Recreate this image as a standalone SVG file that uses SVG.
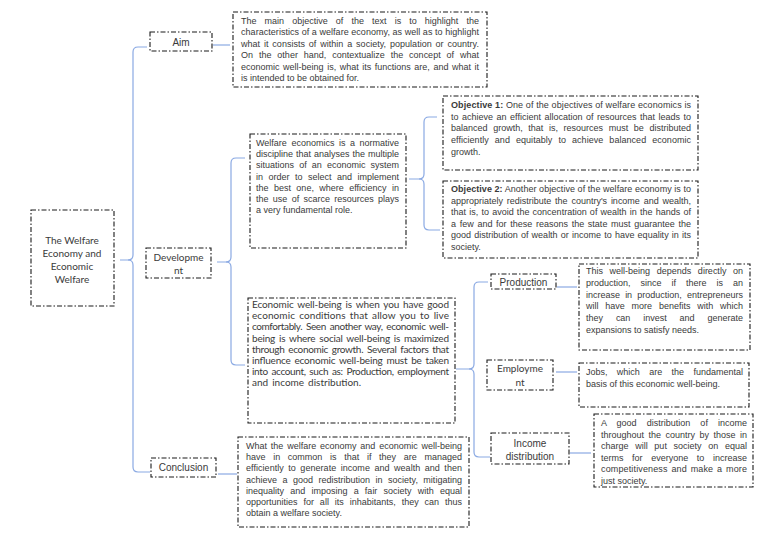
<svg xmlns="http://www.w3.org/2000/svg" width="768" height="543" viewBox="0 0 768 543">
<style>
.box{fill:#fff;stroke:#1a1a1a;stroke-width:1.1;stroke-dasharray:5 2 1.5 2}
.t{font-family:"Liberation Sans",Arial,sans-serif;font-size:9px;fill:#3a3a3a}
.c{font-family:Lato,"Liberation Sans",sans-serif;font-size:10px;fill:#3a3a3a;word-spacing:1.5px}
.lbl{font-family:"Liberation Sans",Arial,sans-serif;font-size:10px;fill:#3a3a3a;text-anchor:middle}
.lc{font-family:Lato,"Liberation Sans",sans-serif;font-size:10px;fill:#3a3a3a;text-anchor:middle}
.ln{fill:none;stroke:#8aa9e3;stroke-width:1.2}
</style>
<rect width="768" height="543" fill="#fff"/>
<g id="connectors">
<path class="ln" d="M120,260 H128 Q133,260 133,255 V52 Q133,47 138,47 H147"/>
<path class="ln" d="M128,260 Q133,260 133,265 V467 Q133,472 138,472 H150"/>
<path class="ln" d="M213,45 H230" stroke-width="1.5"/>
<path class="ln" d="M217,262 H226 Q231,262 231,257 V163 Q231,158 236,158 H245"/>
<path class="ln" d="M226,262 Q231,262 231,267 V360 Q231,365 236,365 H245"/>
<path class="ln" d="M409,179 H419 Q424,179 424,174 V122 Q424,117 429,117 H437"/>
<path class="ln" d="M419,179 Q424,179 424,184 V225 Q424,230 429,230 H440"/>
<path class="ln" d="M456,369 H469 Q474,369 474,364 V287 Q474,282 479,282 H488"/>
<path class="ln" d="M469,369 Q474,369 474,374 V452 Q474,457 479,457 H490"/>
<path class="ln" d="M557,287 H577"/>
<path class="ln" d="M556,372 H577"/>
<path class="ln" d="M570,453 H591"/>
<path class="ln" d="M218,474 H237"/>
</g>
<g id="root">
<rect class="box" x="31" y="210" width="83" height="96"/>
<text class="lc" x="72" y="244">The Welfare</text>
<text class="lc" x="72" y="257">Economy and</text>
<text class="lc" x="72" y="270">Economic</text>
<text class="lc" x="72" y="283">Welfare</text>
</g>
<g id="aim">
<rect class="box" x="150" y="32" width="62" height="19"/>
<text class="lbl" x="181" y="45.5">Aim</text>
</g>
<g id="aim-desc">
<rect class="box" x="233" y="12" width="254" height="75"/>
<text class="t" x="241" y="23.5" word-spacing="5.6" textLength="238" lengthAdjust="spacing">The main objective of the text is to highlight the</text>
<text class="t" x="241" y="35" textLength="238" lengthAdjust="spacing">characteristics of a welfare economy, as well as to highlight</text>
<text class="t" x="241" y="46.5" word-spacing="1.3" textLength="238" lengthAdjust="spacing">what it consists of within a society, population or country.</text>
<text class="t" x="241" y="58" word-spacing="3.4" textLength="238" lengthAdjust="spacing">On the other hand, contextualize the concept of what</text>
<text class="t" x="241" y="69.5" word-spacing="1" textLength="238" lengthAdjust="spacing">economic well-being is, what its functions are, and what it</text>
<text class="t" x="241" y="81">is intended to be obtained for.</text>
</g>
<g id="development">
<rect class="box" x="146" y="248" width="65" height="30"/>
<text class="lc" x="178.5" y="261">Developme</text>
<text class="lc" x="178.5" y="274">nt</text>
</g>
<g id="welfare-desc">
<rect class="box" x="250" y="134" width="156" height="114"/>
<text class="t" x="256" y="146" word-spacing="2" textLength="143" lengthAdjust="spacing">Welfare economics is a normative</text>
<text class="t" x="256" y="157.2" word-spacing="0.5" textLength="143" lengthAdjust="spacing">discipline that analyses the multiple</text>
<text class="t" x="256" y="168.4" word-spacing="2.6" textLength="143" lengthAdjust="spacing">situations of an economic system</text>
<text class="t" x="256" y="179.6" word-spacing="3" textLength="143" lengthAdjust="spacing">in order to select and implement</text>
<text class="t" x="256" y="190.8" word-spacing="2.9" textLength="143" lengthAdjust="spacing">the best one, where efficiency in</text>
<text class="t" x="256" y="202" word-spacing="1.8" textLength="143" lengthAdjust="spacing">the use of scarce resources plays</text>
<text class="t" x="256" y="213.2">a very fundamental role.</text>
</g>
<g id="objective1">
<rect class="box" x="443" y="96" width="255" height="74"/>
<text class="t" x="451" y="108" textLength="240" lengthAdjust="spacing"><tspan font-weight="bold">Objective 1:</tspan> One of the objectives of welfare economics is</text>
<text class="t" x="451" y="119.7" word-spacing="1" textLength="240" lengthAdjust="spacing">to achieve an efficient allocation of resources that leads to</text>
<text class="t" x="451" y="131.4" word-spacing="3.1" textLength="240" lengthAdjust="spacing">balanced growth, that is, resources must be distributed</text>
<text class="t" x="451" y="143.1" word-spacing="3.5" textLength="240" lengthAdjust="spacing">efficiently and equitably to achieve balanced economic</text>
<text class="t" x="451" y="154.8">growth.</text>
</g>
<g id="objective2">
<rect class="box" x="443" y="181" width="255" height="77"/>
<text class="t" x="451" y="192" textLength="240" lengthAdjust="spacing"><tspan font-weight="bold">Objective 2:</tspan> Another objective of the welfare economy is to</text>
<text class="t" x="451" y="203.5" word-spacing="1.3" textLength="240" lengthAdjust="spacing">appropriately redistribute the country's income and wealth,</text>
<text class="t" x="451" y="215" word-spacing="0.7" textLength="240" lengthAdjust="spacing">that is, to avoid the concentration of wealth in the hands of</text>
<text class="t" x="451" y="226.5" word-spacing="1.2" textLength="240" lengthAdjust="spacing">a few and for these reasons the state must guarantee the</text>
<text class="t" x="451" y="238" word-spacing="0.7" textLength="240" lengthAdjust="spacing">good distribution of wealth or income to have equality in its</text>
<text class="t" x="451" y="249.5">society.</text>
</g>
<g id="economic-desc">
<rect class="box" x="248" y="298" width="207" height="125"/>
<text class="c" x="252" y="308" textLength="197" lengthAdjust="spacing">Economic well-being is when you have good</text>
<text class="c" x="252" y="319.2" textLength="197" lengthAdjust="spacing">economic conditions that allow you to live</text>
<text class="c" x="252" y="330.4" textLength="197" lengthAdjust="spacing">comfortably. Seen another way, economic well-</text>
<text class="c" x="252" y="341.6" textLength="197" lengthAdjust="spacing">being is where social well-being is maximized</text>
<text class="c" x="252" y="352.8" textLength="197" lengthAdjust="spacing">through economic growth. Several factors that</text>
<text class="c" x="252" y="364" textLength="197" lengthAdjust="spacing">influence economic well-being must be taken</text>
<text class="c" x="252" y="375.2" textLength="197" lengthAdjust="spacing">into account, such as: Production, employment</text>
<text class="c" x="252" y="386.4">and income distribution.</text>
</g>
<g id="production">
<rect class="box" x="491" y="274" width="65" height="15"/>
<text class="lbl" x="523.5" y="285.5">Production</text>
</g>
<g id="production-desc">
<rect class="box" x="579" y="264" width="171" height="86"/>
<text class="t" x="586" y="274" word-spacing="4.1" textLength="157" lengthAdjust="spacing">This well-being depends directly on</text>
<text class="t" x="586" y="285.8" word-spacing="7.5" textLength="157" lengthAdjust="spacing">production, since if there is an</text>
<text class="t" x="586" y="297.6" word-spacing="2.6" textLength="157" lengthAdjust="spacing">increase in production, entrepreneurs</text>
<text class="t" x="586" y="309.4" word-spacing="4.3" textLength="157" lengthAdjust="spacing">will have more benefits with which</text>
<text class="t" x="586" y="321.2" word-spacing="10.4" textLength="157" lengthAdjust="spacing">they can invest and generate</text>
<text class="t" x="586" y="333">expansions to satisfy needs.</text>
</g>
<g id="employment">
<rect class="box" x="487" y="360" width="66" height="30"/>
<text class="lc" x="520" y="371.5">Employme</text>
<text class="lc" x="520" y="385.5">nt</text>
</g>
<g id="employment-desc">
<rect class="box" x="579" y="363" width="170" height="44"/>
<text class="t" x="586" y="375" word-spacing="6.9" textLength="157" lengthAdjust="spacing">Jobs, which are the fundamental</text>
<text class="t" x="586" y="387">basis of this economic well-being.</text>
</g>
<g id="income">
<rect class="box" x="491" y="433" width="78" height="31"/>
<text class="lbl" x="530" y="446.5" font-size="9.5">Income</text>
<text class="lbl" x="530" y="459.5" font-size="9.5">distribution</text>
</g>
<g id="income-desc">
<rect class="box" x="594" y="414" width="159" height="73"/>
<text class="t" x="601" y="426" word-spacing="7.5" textLength="146" lengthAdjust="spacing">A good distribution of income</text>
<text class="t" x="601" y="437.6" word-spacing="2" textLength="146" lengthAdjust="spacing">throughout the country by those in</text>
<text class="t" x="601" y="449.2" word-spacing="4.2" textLength="146" lengthAdjust="spacing">charge will put society on equal</text>
<text class="t" x="601" y="460.8" word-spacing="6.1" textLength="146" lengthAdjust="spacing">terms for everyone to increase</text>
<text class="t" x="601" y="472.4" word-spacing="1.2" textLength="146" lengthAdjust="spacing">competitiveness and make a more</text>
<text class="t" x="601" y="484">just society.</text>
</g>
<g id="conclusion">
<rect class="box" x="151" y="458" width="65" height="19"/>
<text class="lbl" x="183.5" y="471">Conclusion</text>
</g>
<g id="conclusion-desc">
<rect class="box" x="238" y="437" width="231" height="90"/>
<text class="t" x="246" y="449" word-spacing="1.3" textLength="216" lengthAdjust="spacing">What the welfare economy and economic well-being</text>
<text class="t" x="246" y="460.2" word-spacing="5.2" textLength="216" lengthAdjust="spacing">have in common is that if they are managed</text>
<text class="t" x="246" y="471.4" word-spacing="1.9" textLength="216" lengthAdjust="spacing">efficiently to generate income and wealth and then</text>
<text class="t" x="246" y="482.6" word-spacing="2.9" textLength="216" lengthAdjust="spacing">achieve a good redistribution in society, mitigating</text>
<text class="t" x="246" y="493.8" word-spacing="3.7" textLength="216" lengthAdjust="spacing">inequality and imposing a fair society with equal</text>
<text class="t" x="246" y="505" word-spacing="3.4" textLength="216" lengthAdjust="spacing">opportunities for all its inhabitants, they can thus</text>
<text class="t" x="246" y="516.2">obtain a welfare society.</text>
</g>
</svg>
